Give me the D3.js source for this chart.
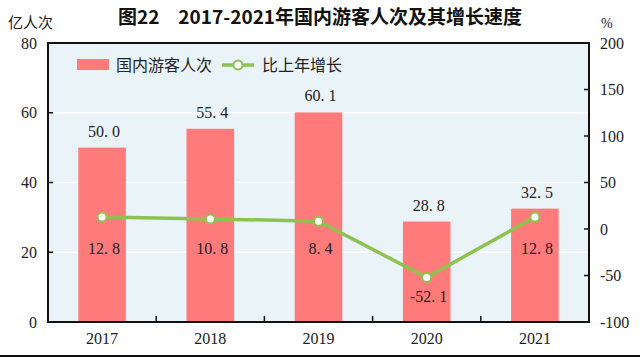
<!DOCTYPE html>
<html><head><meta charset="utf-8">
<script src="https://cdn.jsdelivr.net/npm/d3@7"></script>
<style>body{margin:0;background:#fff}</style>
</head><body><svg id="c" width="640" height="358"></svg>
<script>
const categories = ["2017","2018","2019","2020","2021"];
const visitors = [50.0, 55.4, 60.1, 28.8, 32.5];
const growth = [12.8, 10.8, 8.4, -52.1, 12.8];
const leftTicks = [0, 20, 40, 60, 80];
const rightTicks = [-100, -50, 0, 50, 100, 150, 200];
const titleText = "图22　2017-2021年国内游客人次及其增长速度";
const seriesNames = ["国内游客人次", "比上年增长"];

const W = 640, H = 358;
const m = {left: 48, right: 589, top: 43, bottom: 322};
const numFont = "'Liberation Serif', 'DejaVu Serif', serif";
const cjkFont = "'Noto Sans CJK SC', sans-serif";
const barColor = "#FF7B7B", lineColor = "#8DC24F", bg = "#EAF3F8", txt = "#222";

const svg = d3.select("#c");
const x = d3.scaleBand().domain(categories).range([m.left, m.right]).paddingInner(0.56).paddingOuter(0.28);
const yL = d3.scaleLinear().domain([0, 80]).range([m.bottom, m.top]);
const yR = d3.scaleLinear().domain([-100, 200]).range([m.bottom, m.top]);
const step = x.step();

// background
svg.append("rect").attr("x", m.left).attr("y", m.top).attr("width", m.right - m.left).attr("height", m.bottom - m.top).attr("fill", bg);

// gridlines
svg.append("g").selectAll("line").data(leftTicks.filter(d => d > 0 && d < 80)).join("line")
  .attr("x1", m.left).attr("x2", m.right).attr("y1", d => yL(d)).attr("y2", d => yL(d))
  .attr("stroke", "#fff").attr("stroke-width", 1.5);

// bars
svg.append("g").selectAll("rect").data(visitors).join("rect")
  .attr("x", (d, i) => x(categories[i])).attr("width", x.bandwidth())
  .attr("y", d => yL(d)).attr("height", d => yL(0) - yL(d)).attr("fill", barColor);

function numText(sel, v) {
  const s = v.toFixed(1);
  const k = s.indexOf(".");
  sel.append("tspan").text(s.slice(0, k + 1));
  sel.append("tspan").attr("dx", 4).text(s.slice(k + 1));
}

// bar labels
svg.append("g").selectAll("text").data(visitors).join("text")
  .attr("x", (d, i) => x(categories[i]) + x.bandwidth() / 2 + 2)
  .attr("y", d => yL(d) - 11)
  .attr("text-anchor", "middle").attr("font-family", numFont).attr("font-size", 16).attr("fill", txt)
  .each(function(d) { numText(d3.select(this), d); });

// axes
const axG = svg.append("g").attr("fill", "none").attr("stroke", "#111").attr("stroke-width", 2);
axG.append("rect").attr("x", m.left).attr("y", m.top).attr("width", m.right - m.left).attr("height", m.bottom - m.top);

// left ticks
svg.append("g").selectAll("line").data(leftTicks).join("line")
  .attr("x1", m.left).attr("x2", m.left + 5).attr("y1", d => yL(d)).attr("y2", d => yL(d))
  .attr("stroke", "#111").attr("stroke-width", 1.5);
svg.append("g").selectAll("text").data(leftTicks).join("text")
  .attr("x", 37).attr("y", d => yL(d)).attr("dy", "0.35em").attr("text-anchor", "end")
  .attr("font-family", numFont).attr("font-size", 16).attr("fill", txt).text(d => d);

// right ticks
svg.append("g").selectAll("line").data(rightTicks).join("line")
  .attr("x1", m.right - 5).attr("x2", m.right).attr("y1", d => yR(d)).attr("y2", d => yR(d))
  .attr("stroke", "#111").attr("stroke-width", 1.5);
svg.append("g").selectAll("text").data(rightTicks).join("text")
  .attr("x", 600).attr("y", d => yR(d)).attr("dy", "0.35em").attr("text-anchor", "start")
  .attr("font-family", numFont).attr("font-size", 16).attr("fill", txt).text(d => d);

// bottom ticks between categories
svg.append("g").selectAll("line").data(categories.slice(1)).join("line")
  .attr("x1", d => x(d) - step * x.paddingInner() / 2).attr("x2", d => x(d) - step * x.paddingInner() / 2)
  .attr("y1", m.bottom).attr("y2", m.bottom - 6).attr("stroke", "#111").attr("stroke-width", 1.5);
svg.append("g").selectAll("text").data(categories).join("text")
  .attr("x", d => x(d) + x.bandwidth() / 2).attr("y", 338).attr("dy", "0.35em").attr("text-anchor", "middle")
  .attr("font-family", numFont).attr("font-size", 16).attr("fill", txt).text(d => d);

// line
const cx = (d, i) => x(categories[i]) + x.bandwidth() / 2;
svg.append("path").datum(growth)
  .attr("d", d3.line().x(cx).y(d => yR(d)))
  .attr("fill", "none").attr("stroke", lineColor).attr("stroke-width", 3.5);
svg.append("g").selectAll("circle").data(growth).join("circle")
  .attr("cx", cx).attr("cy", d => yR(d)).attr("r", 4.5)
  .attr("fill", "#fff").attr("stroke", lineColor).attr("stroke-width", 2);

// growth labels
svg.append("g").selectAll("text").data(growth).join("text")
  .attr("x", (d, i) => cx(d, i) + 2)
  .attr("y", d => Math.max(yR(d), yR(0)) + 19).attr("dy", "0.35em")
  .attr("text-anchor", "middle").attr("font-family", numFont).attr("font-size", 16).attr("fill", txt)
  .each(function(d) { numText(d3.select(this), d); });

// legend
const lg = svg.append("g");
lg.append("rect").attr("x", 77).attr("y", 59).attr("width", 32).attr("height", 11).attr("fill", barColor);
lg.append("text").attr("x", 116).attr("y", 65).attr("dy", "0.35em").attr("font-family", cjkFont)
  .attr("font-size", 16).attr("fill", txt).text(seriesNames[0]);
lg.append("line").attr("x1", 222).attr("x2", 254).attr("y1", 65).attr("y2", 65).attr("stroke", lineColor).attr("stroke-width", 3.5);
lg.append("circle").attr("cx", 238).attr("cy", 65).attr("r", 4.5).attr("fill", "#fff").attr("stroke", lineColor).attr("stroke-width", 2);
lg.append("text").attr("x", 262).attr("y", 65).attr("dy", "0.35em").attr("font-family", cjkFont)
  .attr("font-size", 16).attr("fill", txt).text(seriesNames[1]);

// title and units
svg.append("text").attr("x", 320).attr("y", 17).attr("dy", "0.35em").attr("text-anchor", "middle")
  .attr("font-family", cjkFont).attr("font-weight", "bold").attr("font-size", 19).attr("fill", "#111").text(titleText);
svg.append("text").attr("x", 8).attr("y", 23).attr("dy", "0.35em").attr("font-family", cjkFont)
  .attr("font-size", 15).attr("fill", txt).text("亿人次");
svg.append("text").attr("x", 601).attr("y", 23).attr("dy", "0.35em").attr("font-family", numFont)
  .attr("font-size", 14).attr("fill", txt).text("%");

// bottom rule
svg.append("line").attr("x1", 0).attr("x2", W).attr("y1", 356).attr("y2", 356).attr("stroke", "#111").attr("stroke-width", 2);
</script>
</body></html>
